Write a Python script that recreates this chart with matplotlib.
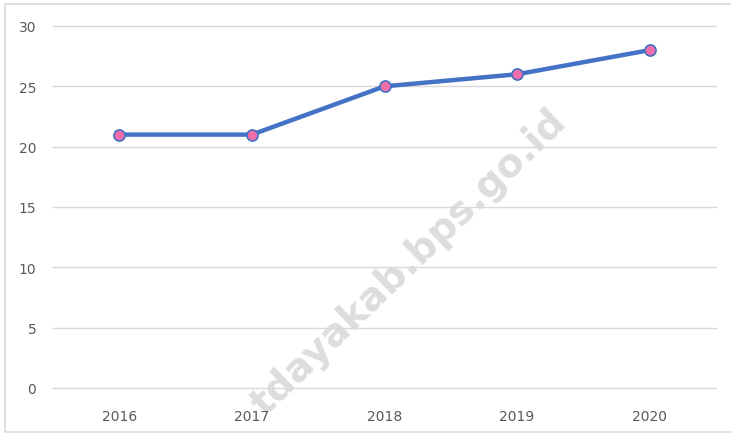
import matplotlib.pyplot as plt
from matplotlib.patches import Rectangle

# data
years = ["2016", "2017", "2018", "2019", "2020"]
values = [21, 21, 25, 26, 28]
y_ticks = [0, 5, 10, 15, 20, 25, 30]

fig = plt.figure(figsize=(7.31, 4.35), dpi=100)
ax = fig.add_axes([53/731, 1-389/435, (716-53)/731, (389-27)/435])

# outer chart border
fig.patches.append(Rectangle((5/731, 2/435), 1.0, (433-5)/435, transform=fig.transFigure,
                             fill=False, edgecolor="#d9d9d9", linewidth=1.2))

x = list(range(len(years)))
ax.plot(x, values, color="#4472C4", linewidth=3.2, marker="o", markersize=8,
        markerfacecolor="#F06EA9", markeredgecolor="#4472C4", markeredgewidth=1.2,
        zorder=3, solid_capstyle="round")

ax.set_xlim(-0.5, 4.5)
ax.set_ylim(0, 30)
ax.set_xticks(x)
ax.set_xticklabels(years)
ax.set_yticks(y_ticks)
ax.tick_params(length=0, labelsize=10, labelcolor="#595959")
ax.tick_params(axis="y", pad=12)
ax.tick_params(axis="x", pad=15)
ax.grid(axis="y", color="#d9d9d9", linewidth=1)
for gl in ax.get_ygridlines():
    gl.set_clip_on(False)
ax.set_axisbelow(True)
for s in ax.spines.values():
    s.set_visible(False)

# watermark (behind the line and the labels)
ax.text(0.56, 0.395, "tdayakab.bps.go.id", transform=fig.transFigure, rotation=44,
        fontsize=28, fontweight="bold", color="#dddddd", ha="center", va="center",
        zorder=0.2, clip_on=False)

fig.savefig("out.png", dpi=100)
